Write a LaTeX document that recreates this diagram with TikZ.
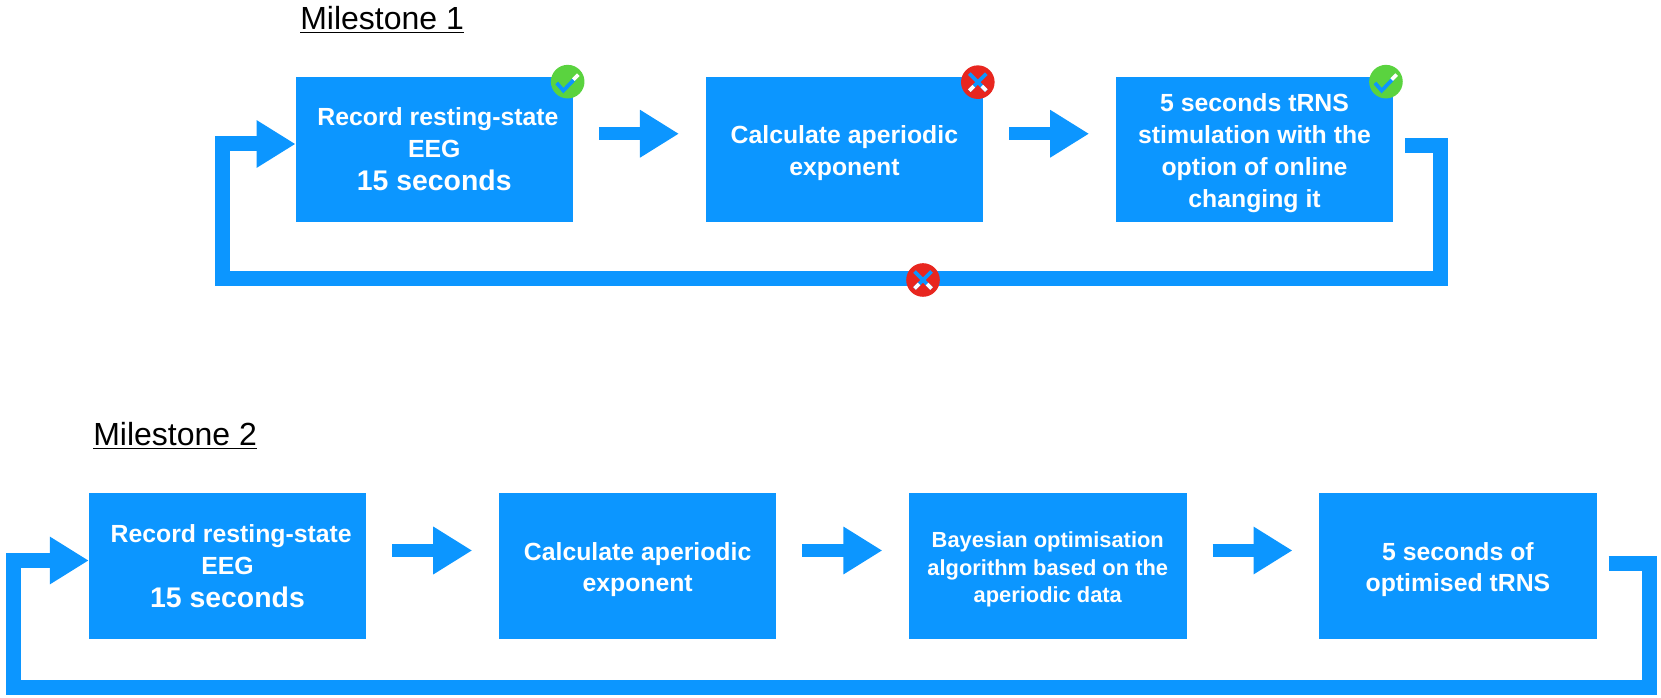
\documentclass[tikz,border=0pt]{standalone}
\usepackage{fontspec}
\setmainfont{Liberation Sans}
\usepackage{tikz}
\usetikzlibrary{positioning, arrows.meta}

\definecolor{flowblue}{HTML}{0C96FF}
\definecolor{okgreen}{HTML}{5AD33F}
\definecolor{failred}{HTML}{E8261F}

\newcommand{\textdrop}[1]{\rule{0pt}{#1}}

\begin{document}
\begin{tikzpicture}[x=0.75pt, y=-0.75pt]
	\tikzstyle{stage} = [rectangle, fill=flowblue, text=white, align=center, inner sep=0pt, outer sep=0pt, minimum width=208.1pt, minimum height=108.9pt, font=\fontsize{18.6}{24}\selectfont\bfseries]
	\tikzstyle{milestone} = [anchor=base west, inner sep=0pt, font=\fontsize{24}{28}\selectfont]
	\tikzstyle{flow} = [draw=flowblue, line width=10pt, -{Triangle[length=29.25pt, width=33.75pt]}]
	\tikzstyle{gapflow} = [flow, shorten <=19.5pt, shorten >=20pt]
	\tikzstyle{backflow} = [flow, line width=11.25pt]
	\tikzstyle{badgemark} = [line width=2.8pt]
	\tikzstyle{okbadge} = [circle, fill=okgreen, inner sep=0pt, minimum size=25.2pt, path picture={
		\draw [badgemark, draw=flowblue] ([shift={(-11,1.3)}]path picture bounding box.center) -- ++(6.7,7.7) -- ++(11,-11.5);
		\draw [badgemark, draw=white] ([shift={(5.7,-2)}]path picture bounding box.center) -- ++(5,-5);
	}]
	\tikzstyle{failbadge} = [circle, fill=failred, inner sep=0pt, minimum size=25.2pt, path picture={
		\draw [badgemark, draw=flowblue] ([shift={(-8.5,-8.5)}]path picture bounding box.center) -- ++(17,17);
		\draw [badgemark, draw=flowblue] ([shift={(8.5,-8.5)}]path picture bounding box.center) -- ++(-17,17);
		\draw [badgemark, draw=white] ([shift={(-4,4)}]path picture bounding box.center) -- ++(-4.5,4.5);
		\draw [badgemark, draw=white] ([shift={(4,4)}]path picture bounding box.center) -- ++(4.5,4.5);
	}]

	\useasboundingbox (0,0) rectangle (1661,698);

	% first milestone
	\node [milestone] (title1) at (300,30) {\underline{Milestone 1}};
	\node [stage] (record1) at (434.25,149.25) {\hspace*{5.6pt}Record resting-state\\EEG\\[1.2pt]{\fontsize{21.3}{26}\selectfont 15 seconds}};
	\node [stage, right=99.5pt of record1] (exponent1) {\textdrop{19.1pt}Calculate aperiodic\\[-0.6pt]exponent};
	\node [stage, right=99.5pt of exponent1] (trns1) {\textdrop{19.1pt}5 seconds tRNS\\stimulation with the\\option of online\\changing it};

	\draw [gapflow] ([shift={(0,-15.5)}]record1.east) -- ([shift={(0,-15.5)}]exponent1.west);
	\draw [gapflow] ([shift={(0,-15.5)}]exponent1.east) -- ([shift={(0,-15.5)}]trns1.west);

	\coordinate (corner1) at (1440.5,278.5);
	\coordinate (return1) at (222.5,144);
	\draw [backflow, shorten <=9pt] ([shift={(0,-3.75)}]trns1.east) -| (corner1) -| (return1) -- ([shift={(0,-5.25)}]record1.west);

	\node [okbadge] (check1) at ([shift={(-5.3,5)}]record1.north east) {};
	\node [failbadge] (cross1) at ([shift={(-5.3,5.5)}]exponent1.north east) {};
	\node [okbadge] (check2) at ([shift={(-7.3,5)}]trns1.north east) {};
	\node [failbadge] (cross2) at (923,280) {};

	% second milestone
	\node [milestone] (title2) at (93,446) {\underline{Milestone 2}};
	\node [stage] (record2) at (227.5,566) {\hspace*{5.6pt}Record resting-state\\EEG\\[1.2pt]{\fontsize{21.3}{26}\selectfont 15 seconds}};
	\node [stage, right=99.5pt of record2] (exponent2) {\textdrop{19.1pt}Calculate aperiodic\\[-0.6pt]exponent};
	\node [stage, font=\fontsize{16.4}{20.6}\selectfont\bfseries, right=99.5pt of exponent2] (bayes) {\textdrop{17.6pt}Bayesian optimisation\\algorithm based on the\\aperiodic data};
	\node [stage, right=99.5pt of bayes] (trns2) {\textdrop{19.1pt}5 seconds of\\[-0.6pt]optimised tRNS};

	\draw [gapflow] ([shift={(0,-15.5)}]record2.east) -- ([shift={(0,-15.5)}]exponent2.west);
	\draw [gapflow] ([shift={(0,-15.5)}]exponent2.east) -- ([shift={(0,-15.5)}]bayes.west);
	\draw [gapflow] ([shift={(0,-15.5)}]bayes.east) -- ([shift={(0,-15.5)}]trns2.west);

	\coordinate (corner2) at (1649.5,687.5);
	\coordinate (return2) at (13.5,560.5);
	\draw [backflow, shorten <=9pt] ([shift={(0,-2.5)}]trns2.east) -| (corner2) -| (return2) -- ([shift={(0,-5.5)}]record2.west);
\end{tikzpicture}
\end{document}
